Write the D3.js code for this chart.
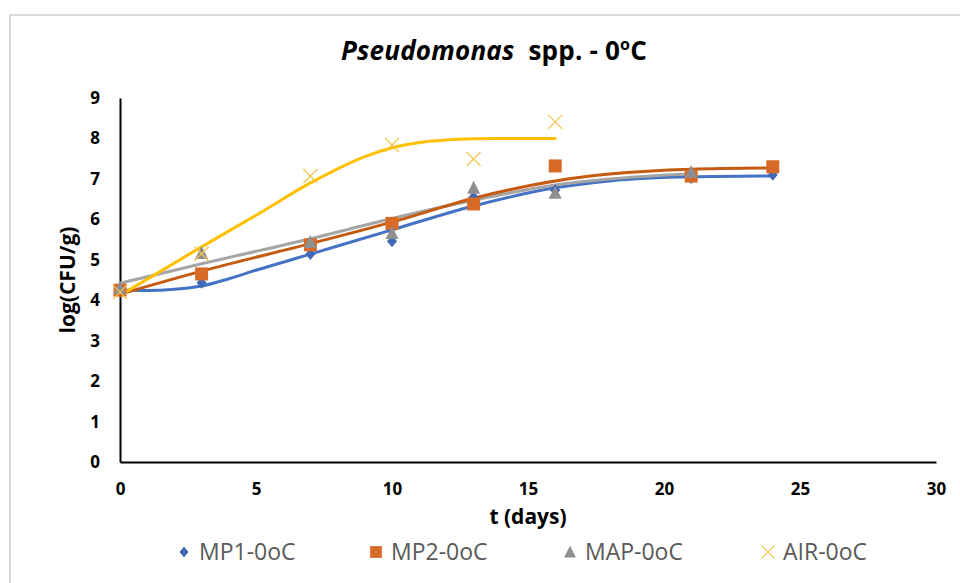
<!DOCTYPE html>
<html>
<head>
<meta charset="utf-8">
<script src="https://cdn.jsdelivr.net/npm/d3@7"></script>
<style>
  html, body { margin: 0; padding: 0; background: #fff; }
  svg { display: block; font-family: "Open Sans", Lato, sans-serif; }
</style>
</head>
<body>
<svg id="chart" width="960" height="583"></svg>
<script>
// Observed counts (log CFU/g) by storage day
const times = [0, 3, 7, 10, 13, 16, 21, 24];
const mp1 = [4.25, 4.43, 5.14, 5.46, 6.55, 6.72, 7.02, 7.1];
const mp2 = [4.25, 4.65, 5.37, 5.9, 6.38, 7.32, 7.07, 7.3];
const mapTimes = [0, 3, 7, 10, 13, 16, 21];
const mapVals = [4.3, 5.17, 5.44, 5.66, 6.78, 6.66, 7.17];
const airTimes = [0, 3, 7, 10, 13, 16];
const airVals = [4.2, 5.15, 7.07, 7.84, 7.49, 8.41];

// Fitted growth curves
const mp1FitT = [0, 1, 2, 3, 4, 5, 7, 10, 13, 16, 18, 21, 24];
const mp1FitV = [4.25, 4.24, 4.27, 4.35, 4.53, 4.74, 5.14, 5.74, 6.33, 6.78, 6.95, 7.05, 7.07];
const mp2FitT = [0, 3, 7, 10, 13, 16, 18, 21, 24];
const mp2FitV = [4.15, 4.72, 5.4, 5.93, 6.52, 6.95, 7.12, 7.24, 7.27];
const mapFitT = [0, 3, 7, 10, 13, 16, 18, 21];
const mapFitV = [4.42, 4.9, 5.52, 6.02, 6.47, 6.85, 7.0, 7.13];
const airFitT = [0, 3, 5, 7, 8, 9, 10, 11, 12, 13, 14, 16];
const airFitV = [4.12, 5.32, 6.1, 6.9, 7.25, 7.55, 7.77, 7.9, 7.96, 7.99, 8.0, 8.0];

const xTicks = [0, 5, 10, 15, 20, 25, 30];
const yTicks = [0, 1, 2, 3, 4, 5, 6, 7, 8, 9];
const seriesNames = ["MP1-0oC", "MP2-0oC", "MAP-0oC", "AIR-0oC"];

const svg = d3.select("#chart");

// outer chart frame
svg.append("rect")
  .attr("x", 10).attr("y", 15).attr("width", 970).attr("height", 600)
  .attr("fill", "#fff").attr("stroke", "#d9d9d9").attr("stroke-width", 2);

const x = d3.scaleLinear().domain([0, 30]).range([120, 936]);
const y = d3.scaleLinear().domain([0, 9]).range([462, 98]);

// axes
const xAxis = svg.append("g").attr("transform", "translate(0,462)")
  .call(d3.axisBottom(x).tickValues(xTicks).tickSize(0).tickPadding(21));
const yAxis = svg.append("g").attr("transform", "translate(120,0)")
  .call(d3.axisLeft(y).tickValues(yTicks).tickSize(0).tickPadding(20));
[xAxis, yAxis].forEach(g => {
  g.select(".domain").attr("stroke", "#000").attr("stroke-width", 2);
  g.selectAll("text").attr("font-size", 17).attr("font-weight", 700)
    .attr("fill", "#000").attr("font-family", "'Open Sans', sans-serif");
});

// fitted curves
const line = d3.line().x(d => x(d[0])).y(d => y(d[1])).curve(d3.curveMonotoneX);
const fits = [
  { t: mp1FitT, v: mp1FitV, color: "#4472C4" },
  { t: mapFitT, v: mapFitV, color: "#A5A5A5" },
  { t: mp2FitT, v: mp2FitV, color: "#C55A11" },
  { t: airFitT, v: airFitV, color: "#FFC000" }
];
fits.forEach(f => {
  svg.append("path")
    .datum(d3.zip(f.t, f.v))
    .attr("d", line)
    .attr("fill", "none")
    .attr("stroke", f.color)
    .attr("stroke-width", 3)
    .attr("stroke-linecap", "round");
});

// markers
function drawMarkers(ts, vs, draw) {
  d3.zip(ts, vs).forEach(d => draw(svg.append("g")
    .attr("transform", `translate(${x(d[0])},${y(d[1])})`)));
}
function diamond(g) {
  g.append("path").attr("d", "M0,-6L5,0L0,6L-5,0Z").attr("fill", "#4169B8");
}
function square(g) {
  g.append("rect").attr("x", -6.5).attr("y", -6.5).attr("width", 13).attr("height", 13)
    .attr("fill", "#D86A28");
}
function triangle(g) {
  g.append("path").attr("d", "M0,-7L6.5,6L-6.5,6Z").attr("fill", "#8F8F8F");
}
function cross(g) {
  g.append("path").attr("d", "M-7,-7L7,7M7,-7L-7,7")
    .attr("stroke", "#F5C54E").attr("stroke-width", 1.3).attr("fill", "none");
}
drawMarkers(times, mp1, diamond);
drawMarkers(times, mp2, square);
drawMarkers(mapTimes, mapVals, triangle);
drawMarkers(airTimes, airVals, cross);

// title
const title = svg.append("text")
  .attr("x", 494).attr("y", 60).attr("text-anchor", "middle")
  .attr("font-size", 26).attr("font-weight", 700).attr("fill", "#000")
  .attr("letter-spacing", 0.2);
title.append("tspan").attr("font-style", "italic").text("Pseudomonas");
title.append("tspan").attr("dx", 14).text("spp. - 0");
title.append("tspan").attr("font-size", 16).attr("dy", -10).text("o");
title.append("tspan").attr("dy", 10).text("C");

// axis titles
svg.append("text")
  .attr("x", 528).attr("y", 524).attr("text-anchor", "middle")
  .attr("font-size", 21).attr("font-weight", 700).attr("fill", "#000")
  .text("t (days)");
svg.append("text")
  .attr("transform", "translate(75,280) rotate(-90)")
  .attr("text-anchor", "middle")
  .attr("font-size", 21).attr("font-weight", 700).attr("fill", "#000")
  .text("log(CFU/g)");

// legend
const legendX = [184, 376, 570, 768];
const legendDraw = [diamond, square, triangle, cross];
seriesNames.forEach((name, i) => {
  const g = svg.append("g").attr("transform", `translate(${legendX[i]},552)`);
  const m = g.append("g").attr("transform", "scale(0.9)");
  legendDraw[i](m);
  g.append("text").attr("x", 15).attr("y", 8)
    .attr("font-size", 23).attr("fill", "#595959")
    .text(name);
});
</script>
</body>
</html>
